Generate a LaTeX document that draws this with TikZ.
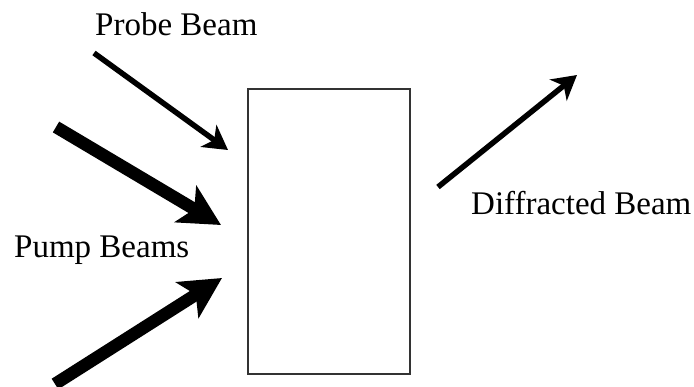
\documentclass[tikz,border=0pt]{standalone}
\usepackage{fontspec}
\setmainfont{Liberation Serif}
\usetikzlibrary{arrows.meta,positioning}

\begin{document}
\begin{tikzpicture}[
    x=1pt, y=-1pt,
    sample/.style={rectangle, draw=black!80, line width=1.2pt, minimum width=162pt, minimum height=285pt, inner sep=0pt},
    lbl/.style={anchor=base west, inner sep=0pt, font=\fontsize{33}{40}\selectfont},
    thinbeam/.style={line width=5.5pt, -{Stealth[length=24pt,width=27pt,inset=7pt]}},
    pumpbeam/.style={line width=12.5pt, -{Stealth[length=41pt,width=42pt,inset=10pt]}}
]
    \useasboundingbox (0,0) rectangle (694,386);

    \node[sample] (cell) at (329,231.5) {};

    \coordinate (probe start) at (94,53);
    \coordinate (probe tip) at (228,150);
    \coordinate (pump1 start) at (56,127);
    \coordinate (pump1 tip) at (221,225);
    \coordinate (pump2 start) at (55,384);
    \coordinate (pump2 tip) at (222,278);
    \coordinate (diff start) at (438,187);
    \coordinate (diff tip) at (577,75);

    \draw[thinbeam] (probe start) -- (probe tip);
    \draw[pumpbeam] (pump1 start) -- (pump1 tip);
    \draw[pumpbeam] (pump2 start) -- (pump2 tip);
    \draw[thinbeam] (diff start) -- (diff tip);

    \node[lbl] (probe) at (95,35) {Probe Beam};
    \node[lbl] (pump) at (14,257) {Pump Beams};
    \node[lbl] (diff) at (471,214) {Diffracted Beam};
\end{tikzpicture}
\end{document}
